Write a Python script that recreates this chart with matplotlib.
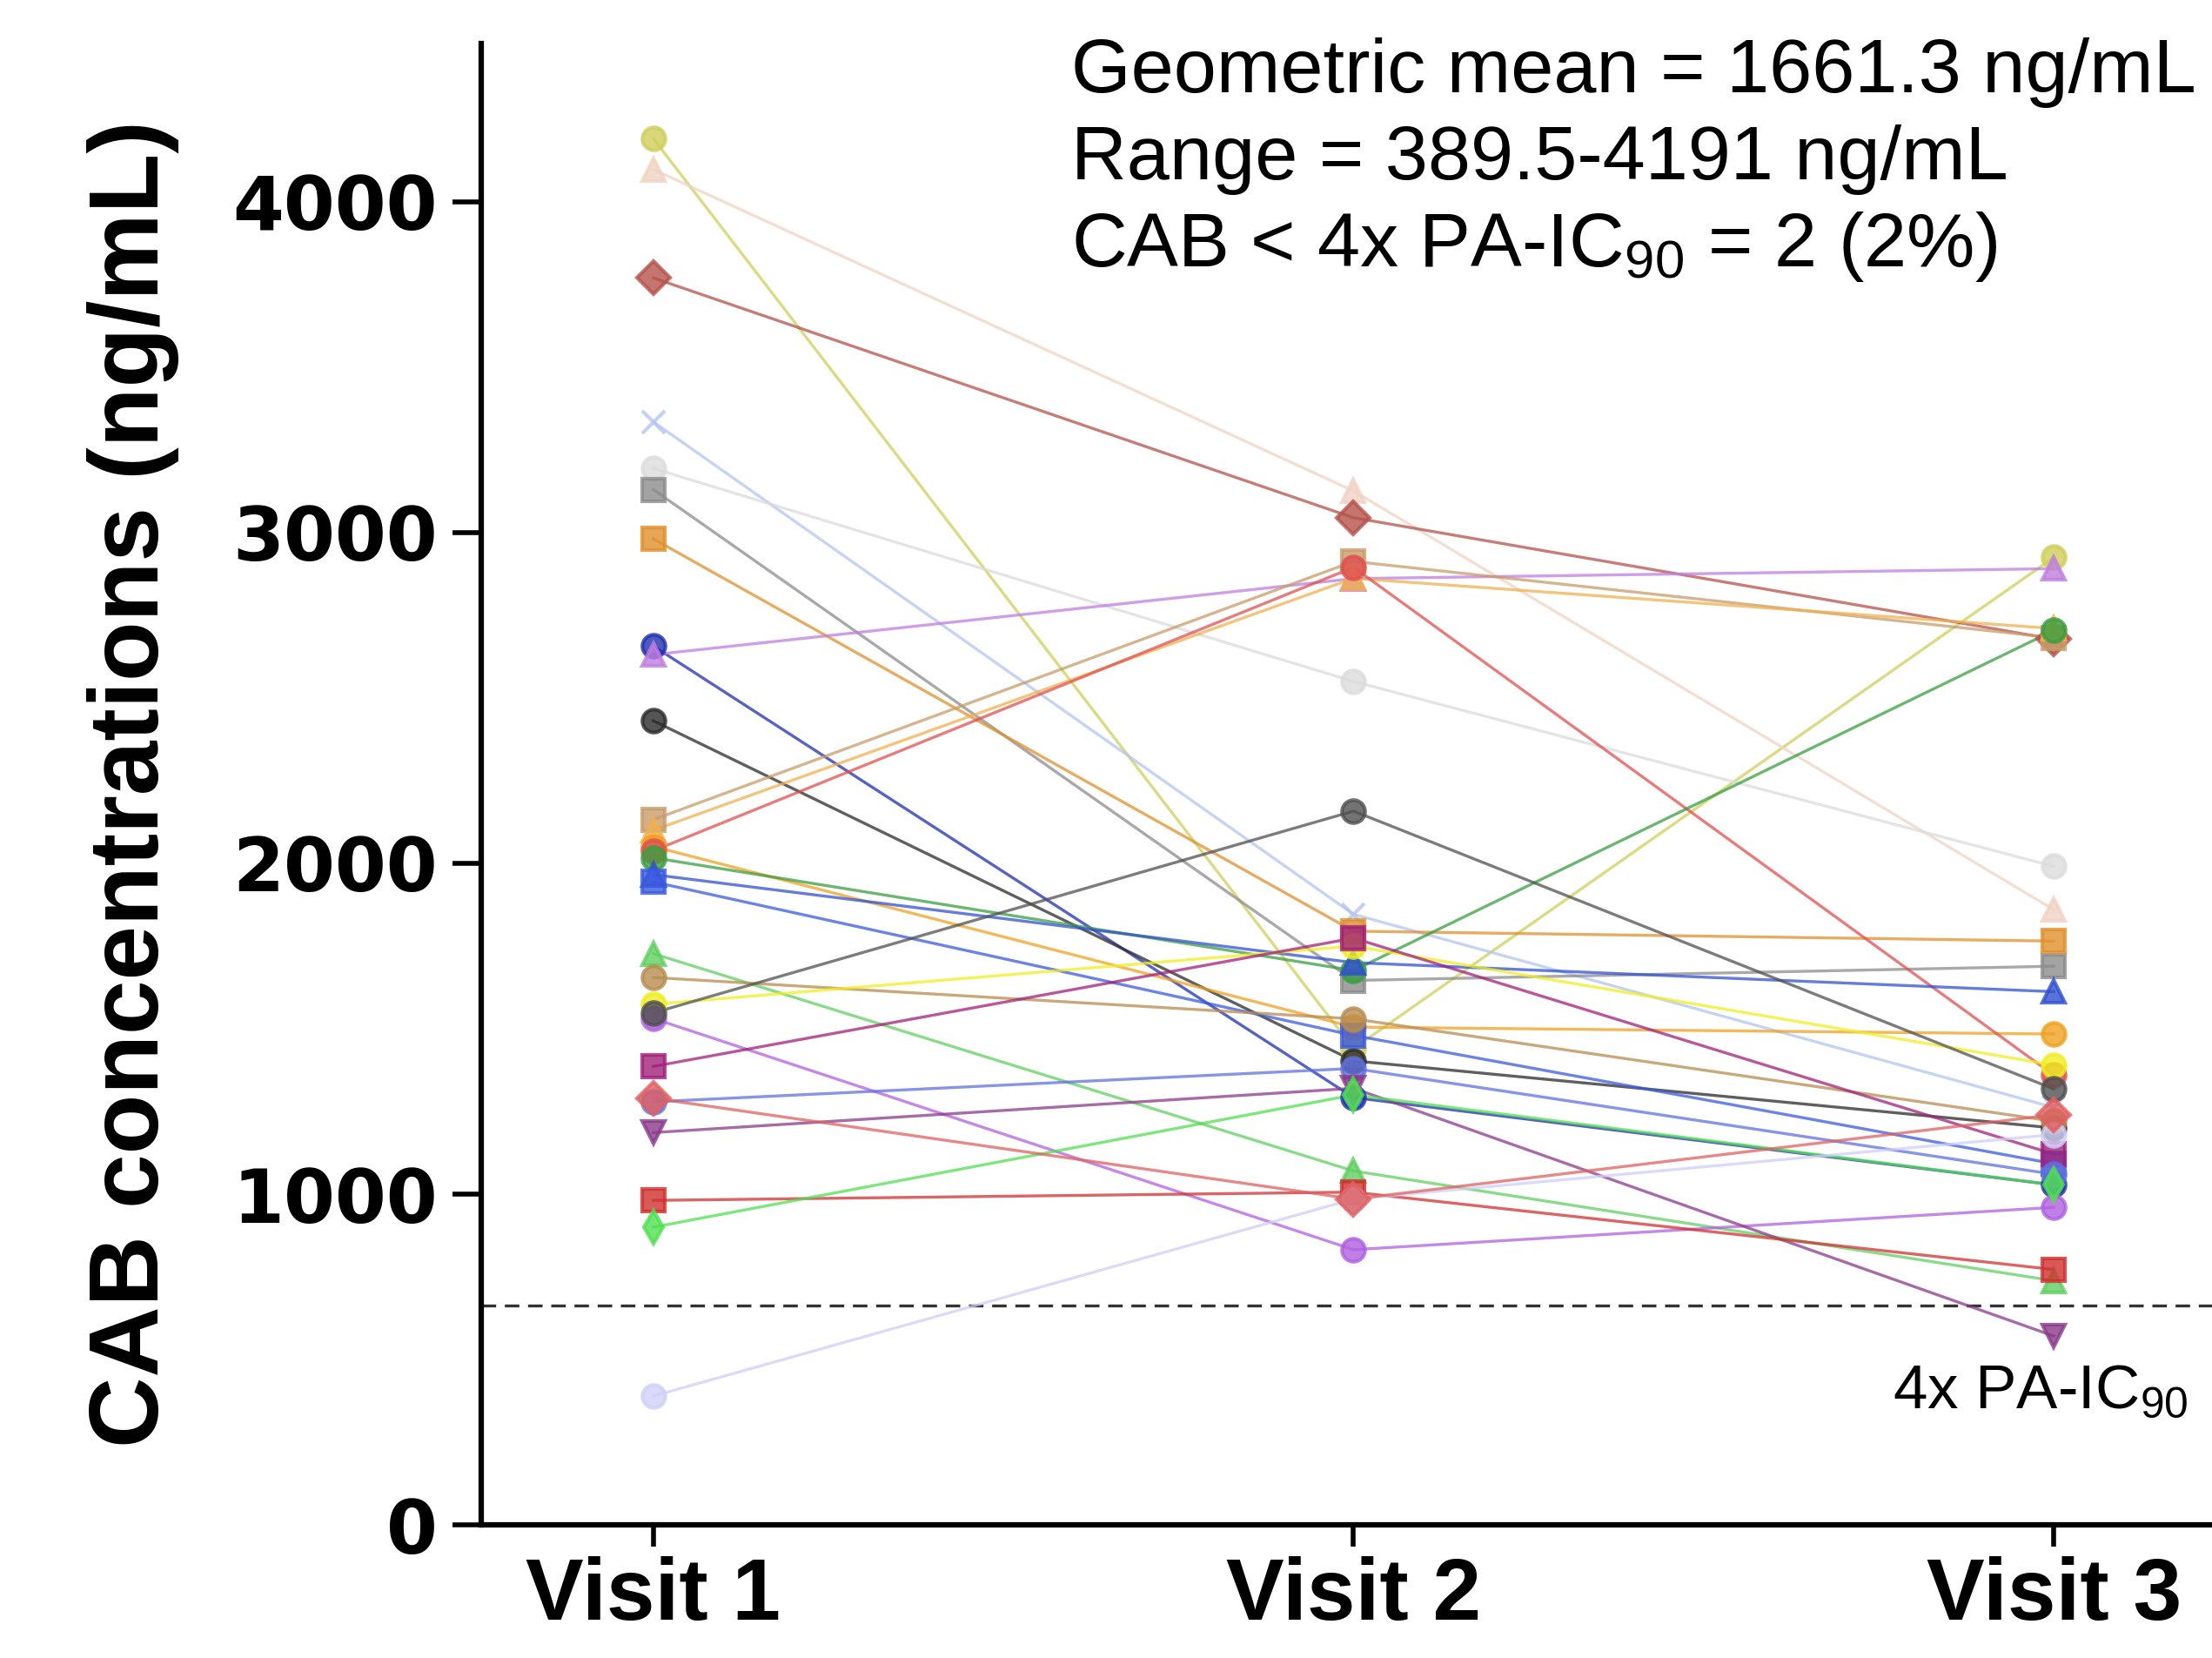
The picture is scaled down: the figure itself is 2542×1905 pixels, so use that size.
import matplotlib.pyplot as plt

plt.rcParams["mathtext.default"] = "regular"

visits = ["Visit 1", "Visit 2", "Visit 3"]

# CAB concentration (ng/mL) per participant at each visit
visit1 = [4191, 4098, 3770, 3335, 3194, 3130, 2981, 2657, 2631, 2431,
          2132, 2100, 2051, 2038, 2017, 1966, 1944, 1727, 1655, 1574,
          1531, 1386, 1279, 1186, 981, 900, 389.5, 1548, 1290]
visit2 = [1440, 3126, 3045, 1846, 2550, 1646, 1795, 1292, 2861, 1403,
          2913, 2862, 1505, 2895, 1676, 1700, 1480, 1070, 1530, 1750,
          832, 1774, 1380, 1320, 1006, 1300, 985, 2158, 985]
visit3 = [2925, 1860, 2678, 1262, 1991, 1689, 1765, 1028, 2891, 1200,
          2682, 2710, 1484, 1360, 2704, 1612, 1092, 738, 1220, 1390,
          960, 1121, 1060, 571, 772, 1028, 1180, 1318, 1240]

colors = ["#cfcf5a", "#f0d4c4", "#b5524a", "#b4c6f0", "#dcdcdc", "#8c8c8c",
          "#e0902c", "#1f2fb0", "#c07ee0", "#2a2a2a", "#c89c6a", "#f0b050",
          "#f0a020", "#e05050", "#3a9e40", "#3050d0", "#3a5ae0", "#60d060",
          "#b88c50", "#f0ee20", "#b060e0", "#a0207a", "#6070e0", "#8a3a8a",
          "#d03030", "#50e050", "#d0d0f8", "#505050", "#e06060"]
markers = ["o", "^", "D", "x", "o", "s", "s", "o", "^", "o",
           "s", "^", "o", "o", "o", "^", "s", "^", "o", "o",
           "o", "s", "o", "v", "s", "d", "o", "o", "D"]

threshold = 664


def main():
    fig = plt.figure(figsize=(25.42, 19.05), dpi=100)
    ax = fig.add_axes([0.2175, 0.0803, 0.7825, 0.8937])

    x = [1, 2, 3]
    for i in range(len(visit1)):
        y = [visit1[i], visit2[i], visit3[i]]
        ax.plot(x, y, color=colors[i], lw=2.4, alpha=0.75, zorder=2)
        ax.plot(x, y, ls="none", marker=markers[i], ms=19, color=colors[i],
                mec=colors[i], mew=3, alpha=0.8, zorder=3)

    ax.axhline(threshold, color="#333333", lw=2.4, ls=(0, (5, 3)), zorder=1)

    ax.set_xlim(0.754, 3.226)
    ax.set_ylim(0, 4480)
    ax.set_xticks(x)
    ax.set_xticklabels(visits, fontsize=72, fontweight="bold",
                       family="Liberation Sans")
    ax.set_yticks([0, 1000, 2000, 3000, 4000])
    ax.set_yticklabels(["0", "1000", "2000", "3000", "4000"], fontsize=61,
                       fontweight="bold", family="DejaVu Sans")
    ax.set_ylabel("CAB concentrations (ng/mL)", fontsize=81, fontweight="bold",
                  family="Liberation Sans", labelpad=44)

    for s in ["top", "right"]:
        ax.spines[s].set_visible(False)
    ax.spines["left"].set_linewidth(4.5)
    ax.spines["bottom"].set_linewidth(4.5)
    ax.tick_params(axis="y", length=24, width=4, pad=12)
    ax.tick_params(axis="x", length=18, width=4, pad=8)

    lines = ["Geometric mean = 1661.3 ng/mL",
             "Range = 389.5-4191 ng/mL",
             "CAB < 4x PA-IC$_{90}$ = 2 (2%)"]
    for k, t in enumerate(lines):
        ax.text(1.597, 4480 - 90 - k * 263, t, fontsize=63.5,
                family="Liberation Sans", ha="left", va="center",
                clip_on=False)

    ax.text(2.77, 400, "4x PA-IC$_{90}$", fontsize=51,
            family="Liberation Sans", ha="left", va="center", clip_on=False)

    fig.savefig("out.png", dpi=100)


if __name__ == "__main__":
    main()
